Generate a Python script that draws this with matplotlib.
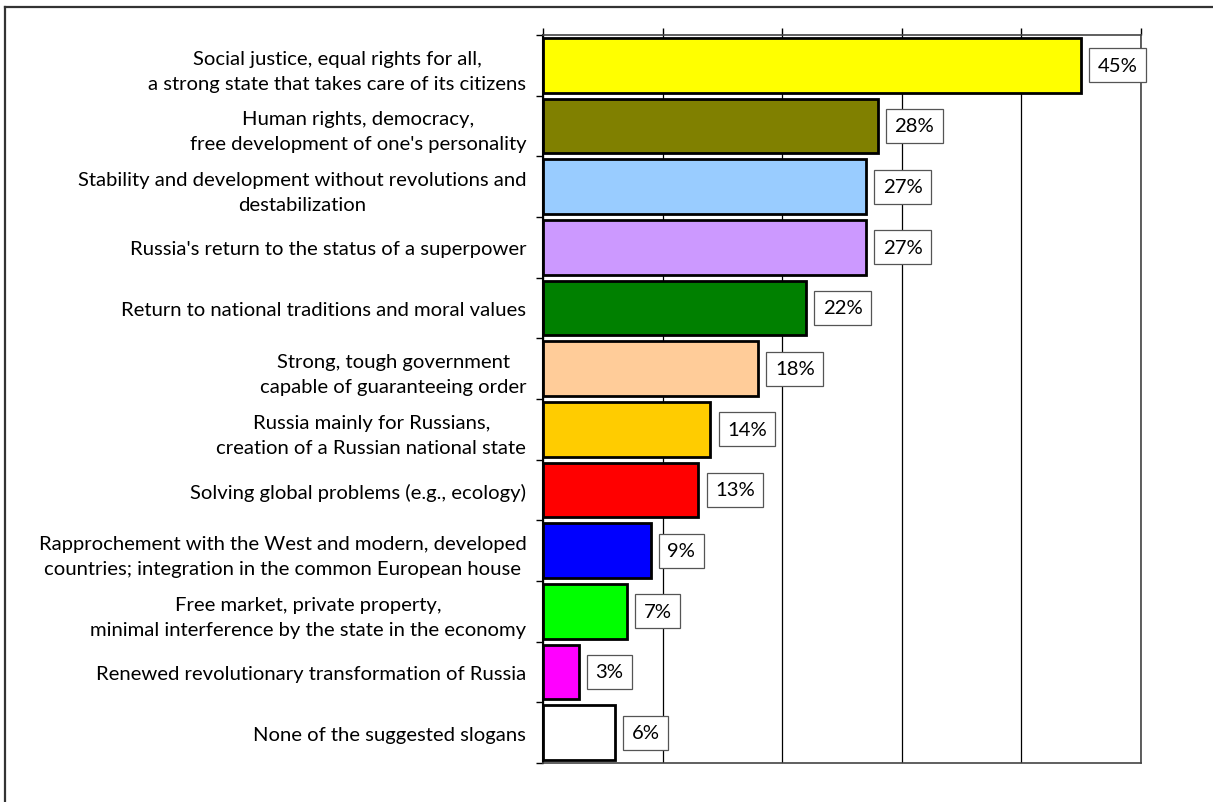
import matplotlib
matplotlib.use("Agg")
import matplotlib.pyplot as plt
from matplotlib.lines import Line2D

plt.rcParams['font.family'] = ['Lato', 'DejaVu Sans']

# slogans, top to bottom
labels = [
    "Social justice, equal rights for all,\na strong state that takes care of its citizens",
    "Human rights, democracy,\nfree development of one's personality",
    "Stability and development without revolutions and\ndestabilization",
    "Russia's return to the status of a superpower",
    "Return to national traditions and moral values",
    "Strong, tough government\ncapable of guaranteeing order",
    "Russia mainly for Russians,\ncreation of a Russian national state",
    "Solving global problems (e.g., ecology)",
    "Rapprochement with the West and modern, developed\ncountries; integration in the common European house",
    "Free market, private property,\nminimal interference by the state in the economy",
    "Renewed revolutionary transformation of Russia",
    "None of the suggested slogans",
]
values = [45, 28, 27, 27, 22, 18, 14, 13, 9, 7, 3, 6]
colors = ["#FFFF00", "#808000", "#99CCFF", "#CC99FF", "#008000", "#FFCC99",
          "#FFCC00", "#FF0000", "#0000FF", "#00FF00", "#FF00FF", "#FFFFFF"]

W, H = 1213, 803
fig = plt.figure(figsize=(W / 100, H / 100), dpi=100)
ax = fig.add_axes([543 / W, 1 - 764 / H, (1141 - 543) / W, (764 - 36) / H])

pos = list(range(len(values)))
ax.barh(pos, values, height=0.9, color=colors, edgecolor="black", linewidth=2, zorder=3)

for i, v in enumerate(values):
    ax.annotate(f"{v}%", xy=(v, i), xytext=(12, 0), textcoords="offset points",
                ha="left", va="center", fontsize=14.6, zorder=4,
                bbox=dict(boxstyle="square,pad=0.42", fc="white", ec="#555555", lw=0.9))

ax.set_xlim(0, 50)
ax.set_ylim(len(values) - 0.5, -0.5)

# value axis on top without labels, grid lines every 10
ax.xaxis.tick_top()
ax.set_xticks([0, 10, 20, 30, 40, 50])
ax.tick_params(axis="x", direction="out", length=5, width=1, labeltop=False, labelbottom=False)
ax.grid(axis="x", color="black", linewidth=0.9, zorder=0)

# category labels between boundary ticks
ax.set_yticks(pos)
ax.set_yticklabels(labels, fontsize=14.6, multialignment="center", linespacing=1.55)
ax.tick_params(axis="y", which="major", length=0, pad=12)
ax.set_yticks([p - 0.5 for p in pos] + [len(values) - 0.5], minor=True)
ax.tick_params(axis="y", which="minor", direction="out", length=5, width=1)

ax.spines["left"].set_linewidth(1.5)
ax.spines["left"].set_color("black")
for s in ["top", "right", "bottom"]:
    ax.spines[s].set_color("#444444")
    ax.spines[s].set_linewidth(1.2)

# outer frame
fig.add_artist(Line2D([5 / W, 5 / W], [0, 1 - 8 / H], color="#333333", lw=1.6))
fig.add_artist(Line2D([5 / W, 1], [1 - 8 / H, 1 - 8 / H], color="#333333", lw=1.6))

fig.savefig("out.png", dpi=100)
